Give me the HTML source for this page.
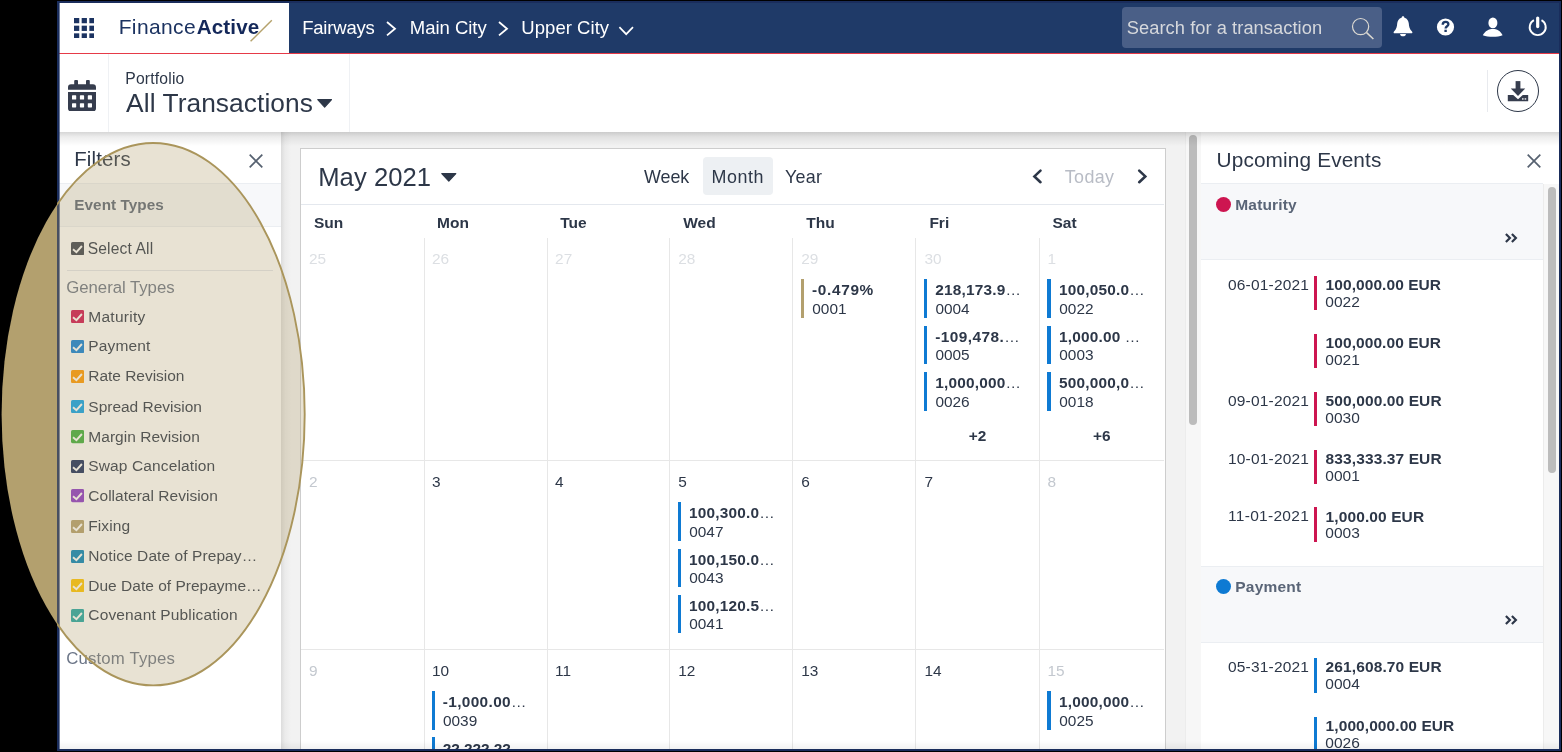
<!DOCTYPE html>
<html><head><meta charset="utf-8"><title>Fairways - Calendar</title>
<style>
html,body{margin:0;padding:0}
body{width:1562px;height:752px;background:#000;overflow:hidden;position:relative;font-family:"Liberation Sans",sans-serif}
.t{position:absolute;white-space:nowrap;display:block}
#frame{position:absolute;left:57px;top:1px;width:1504px;height:750px;background:#1a2d5c}
#clip{position:absolute;left:59px;top:3px;width:1500px;height:746px;overflow:hidden;background:#fff}
#page{position:absolute;left:-59px;top:-3px;width:1562px;height:752px;will-change:transform}
#ov{position:absolute;left:0;top:0}
</style></head><body>
<div id="frame"></div>
<div id="clip"><div id="page">
<div style="position:absolute;left:59px;top:3px;width:230px;height:50px;background:#fff"></div>
<div style="position:absolute;left:289px;top:3px;width:1270px;height:50px;background:#1f3a68"></div>
<div style="position:absolute;left:59px;top:53px;width:1500px;height:1px;background:#e63a48"></div>
<svg style="position:absolute;left:73.6px;top:17.6px" width="20.6" height="20.6" viewBox="0 0 20.4 20.4" fill="#1c3361"><rect x="0.0" y="0.0" width="5.2" height="5.2"/><rect x="7.6" y="0.0" width="5.2" height="5.2"/><rect x="15.2" y="0.0" width="5.2" height="5.2"/><rect x="0.0" y="7.6" width="5.2" height="5.2"/><rect x="7.6" y="7.6" width="5.2" height="5.2"/><rect x="15.2" y="7.6" width="5.2" height="5.2"/><rect x="0.0" y="15.2" width="5.2" height="5.2"/><rect x="7.6" y="15.2" width="5.2" height="5.2"/><rect x="15.2" y="15.2" width="5.2" height="5.2"/></svg>
<span class="t" style="left:118.66px;top:16.00px;font-size:21.0px;line-height:21.0px;color:#1c3361;letter-spacing:0.367px;">Finance</span>
<span class="t" style="left:196.77px;top:17.00px;font-size:20.6px;line-height:20.6px;color:#14285a;font-weight:bold;letter-spacing:0.123px;">Active</span>
<svg style="position:absolute;left:246px;top:16px" width="30" height="30"><line x1="4.6" y1="25.3" x2="25.8" y2="4.3" stroke="#b5a26c" stroke-width="1.45"/></svg>
<span class="t" style="left:302.17px;top:19.00px;font-size:18.5px;line-height:18.5px;color:#fff;letter-spacing:-0.193px;">Fairways</span>
<span class="t" style="left:409.87px;top:19.00px;font-size:18.5px;line-height:18.5px;color:#fff;letter-spacing:-0.037px;">Main City</span>
<span class="t" style="left:521.37px;top:19.00px;font-size:18.5px;line-height:18.5px;color:#fff;letter-spacing:0.038px;">Upper City</span>
<svg style="position:absolute;left:384.6px;top:20.3px" width="12" height="17.4"><polyline points="2,2 10,8.7 2,15.4" fill="none" stroke="#fff" stroke-width="1.8"/></svg>
<svg style="position:absolute;left:497.2px;top:20.3px" width="12" height="17.4"><polyline points="2,2 10,8.7 2,15.4" fill="none" stroke="#fff" stroke-width="1.8"/></svg>
<svg style="position:absolute;left:617px;top:24px" width="20" height="14"><polyline points="2.4,3.2 9.2,10.2 16,3.2" fill="none" stroke="#fff" stroke-width="1.7"/></svg>
<div style="position:absolute;left:1122px;top:7px;width:260px;height:41px;border-radius:4px;background:#4a5f87"></div>
<span class="t" style="left:1126.78px;top:19.00px;font-size:18.3px;line-height:18.3px;color:#d6d8dc;letter-spacing:0.053px;">Search for a transaction</span>
<svg style="position:absolute;left:1348px;top:14px" width="30" height="30"><circle cx="12.6" cy="12.6" r="8.1" fill="none" stroke="#dcd9d2" stroke-width="1.2"/><line x1="18.6" y1="18.6" x2="25.4" y2="25" stroke="#dcd9d2" stroke-width="1.5"/></svg>
<svg style="position:absolute;left:1392px;top:15px" width="23" height="23" viewBox="0 0 23 23" fill="#fff"><path d="M11 1.200C11.900 1.200 12.400 1.900 12.400 2.700C15.200 3.400 16.600 5.800 16.800 8.600C17 12 17.600 14.200 20 16.400C20.800 17.200 20.400 18.300 19.400 18.300H2.600C1.600 18.300 1.200 17.200 2 16.400C4.400 14.200 5 12 5.200 8.600C5.400 5.800 6.800 3.400 9.600 2.700C9.600 1.900 10.100 1.200 11 1.200zM8.100 18.900h5.800c0 1.400-1.200 2.300-2.900 2.300s-2.900-.9-2.900-2.300z"/></svg>
<svg style="position:absolute;left:1436px;top:18px" width="20" height="20"><circle cx="9.5" cy="9" r="8.6" fill="#fff"/><path d="M6.700 6.700C6.700 4.800 8 3.900 9.600 3.900C11.200 3.900 12.400 4.800 12.400 6.300C12.400 8.200 9.600 8.300 9.600 10.500" fill="none" stroke="#1f3a68" stroke-width="2.300"/><rect x="8.400" y="11.700" width="2.400" height="2.300" fill="#1f3a68"/></svg>
<svg style="position:absolute;left:1481px;top:15px" width="24" height="24" fill="#fff"><ellipse cx="11.9" cy="7.9" rx="4.5" ry="5.4"/><path d="M1.800 20.200C4.200 15.700 8 13.900 11.900 13.900s7.700 1.800 9.700 6.300c-2.800 1.200-6 1.500-9.700 1.500s-7.200-.3-10.100-1.500z"/></svg>
<svg style="position:absolute;left:1526px;top:14px" width="24" height="24" fill="none" stroke="#fff"><path d="M7.900 6.100A8 8 0 1 0 15.500 6.100" stroke-width="1.9"/><line x1="11.700" y1="4" x2="11.700" y2="12.600" stroke-width="3.200" stroke-linecap="round"/></svg>
<div style="position:absolute;left:59px;top:54px;width:1500px;height:78px;background:#fff"></div>
<div style="position:absolute;left:108px;top:54px;width:1px;height:78px;background:#eff1f4"></div>
<div style="position:absolute;left:349px;top:54px;width:1px;height:78px;background:#eff1f4"></div>
<div style="position:absolute;left:1487px;top:70px;width:1px;height:42px;background:#e8eaee"></div>
<svg style="position:absolute;left:68px;top:79.800px" width="28" height="31.400" viewBox="0 0 28 31.400" fill="#363d4e">
<rect x="6.200" y="0" width="3.800" height="7" rx="1"/><rect x="18" y="0" width="3.800" height="7" rx="1"/>
<path d="M0 9.800V7.200a3 3 0 0 1 3-3h22a3 3 0 0 1 3 3v2.600z"/>
<path d="M0 12h28v16.400a3 3 0 0 1-3 3H3a3 3 0 0 1-3-3z"/>
<g fill="#fff"><rect x="4" y="15.300" width="4.200" height="4.200" rx=".6"/><rect x="11.900" y="15.300" width="4.200" height="4.200" rx=".6"/><rect x="19.800" y="15.300" width="4.200" height="4.200" rx=".6"/>
<rect x="4" y="23.200" width="4.200" height="4.200" rx=".6"/><rect x="11.900" y="23.200" width="4.200" height="4.200" rx=".6"/><rect x="19.800" y="23.200" width="4.200" height="4.200" rx=".6"/></g></svg>
<span class="t" style="left:125.29px;top:71.00px;font-size:15.7px;line-height:15.7px;color:#2d3748;letter-spacing:0.186px;">Portfolio</span>
<span class="t" style="left:126.12px;top:90.00px;font-size:26.3px;line-height:26.3px;color:#2d3748;letter-spacing:0.076px;">All Transactions</span>
<svg style="position:absolute;left:316.9px;top:98.9px" width="15.3" height="9.2"><polygon points="0.8,0.7 14.50,0.7 7.65,8.10" fill="#2d3748" stroke="#2d3748" stroke-width="1.2" stroke-linejoin="round"/></svg>
<div style="position:absolute;left:1496.600px;top:69.900px;width:40px;height:40px;border:1.200px solid #2d3748;border-radius:50%"></div>
<svg style="position:absolute;left:1506px;top:80px" width="24" height="24" fill="#363d4e"><rect x="9.600" y="1.100" width="4.800" height="8"/><path d="M4.800 8.500h14.400L12 16z"/><path d="M1.800 14.900h5.400l4.800 4.300 4.800-4.300h5.400v6.300H1.800z"/><rect x="16" y="18.300" width="1.600" height="1.300" fill="#fff"/><rect x="18.600" y="18.300" width="1.600" height="1.300" fill="#fff"/></svg>
<div style="position:absolute;left:59px;top:132px;width:1500px;height:617px;background:#f2f2f2"></div>
<div style="position:absolute;left:59px;top:132px;width:222px;height:617px;background:#fff"></div>
<div style="position:absolute;left:281px;top:132px;width:10px;height:617px;background:linear-gradient(to right,#dcdcdc,#ebebeb 40%,#f2f2f2)"></div>
<span class="t" style="left:74.28px;top:149.00px;font-size:20.4px;line-height:20.4px;color:#2d3748;letter-spacing:0.145px;">Filters</span>
<svg style="position:absolute;left:245.7px;top:150.9px" width="20" height="20"><path d="M3.7 3.7L16.3 16.3M16.3 3.7L3.7 16.3" stroke="#566170" stroke-width="1.7" fill="none"/></svg>
<div style="position:absolute;left:59px;top:183px;width:222px;height:44px;background:#f7f8fa;border-top:1px solid #ebeef2;border-bottom:1px solid #ebeef2;box-sizing:border-box"></div>
<span class="t" style="left:74.31px;top:197.00px;font-size:15.3px;line-height:15.3px;color:#5a6577;font-weight:bold;letter-spacing:0.047px;">Event Types</span>
<svg style="position:absolute;left:71px;top:241.5px" width="13.200" height="13.200"><rect width="13.200" height="13.200" rx="1.600" fill="#3a4150"/><polyline points="2,7.300 5.400,10.200 10.900,4" fill="none" stroke="#fff" stroke-width="1.900"/></svg>
<span class="t" style="left:87.70px;top:241.00px;font-size:15.6px;line-height:15.6px;color:#2d3748;letter-spacing:0.147px;">Select All</span>
<div style="position:absolute;left:67px;top:270px;width:206px;height:1px;background:#e2e6ec"></div>
<span class="t" style="left:66.24px;top:280.00px;font-size:16.8px;line-height:16.8px;color:#6b7587;letter-spacing:-0.040px;">General Types</span>
<svg style="position:absolute;left:71px;top:310.3px" width="13.200" height="13.200"><rect width="13.200" height="13.200" rx="1.600" fill="#cf1251"/><polyline points="2,7.300 5.400,10.200 10.900,4" fill="none" stroke="#fff" stroke-width="1.900"/></svg>
<span class="t" style="left:88.30px;top:309.00px;font-size:15.5px;line-height:15.5px;color:#2d3748;letter-spacing:0.262px;">Maturity</span>
<svg style="position:absolute;left:71px;top:339.6px" width="13.200" height="13.200"><rect width="13.200" height="13.200" rx="1.600" fill="#0b80dc"/><polyline points="2,7.300 5.400,10.200 10.900,4" fill="none" stroke="#fff" stroke-width="1.900"/></svg>
<span class="t" style="left:88.30px;top:338.00px;font-size:15.5px;line-height:15.5px;color:#2d3748;letter-spacing:0.149px;">Payment</span>
<svg style="position:absolute;left:71px;top:369.8px" width="13.200" height="13.200"><rect width="13.200" height="13.200" rx="1.600" fill="#ff9900"/><polyline points="2,7.300 5.400,10.200 10.900,4" fill="none" stroke="#fff" stroke-width="1.900"/></svg>
<span class="t" style="left:88.30px;top:368.00px;font-size:15.5px;line-height:15.5px;color:#2d3748;letter-spacing:-0.029px;">Rate Revision</span>
<svg style="position:absolute;left:71px;top:400.0px" width="13.200" height="13.200"><rect width="13.200" height="13.200" rx="1.600" fill="#08a2ee"/><polyline points="2,7.300 5.400,10.200 10.900,4" fill="none" stroke="#fff" stroke-width="1.900"/></svg>
<span class="t" style="left:88.30px;top:399.00px;font-size:15.5px;line-height:15.5px;color:#2d3748;letter-spacing:-0.008px;">Spread Revision</span>
<svg style="position:absolute;left:71px;top:430.4px" width="13.200" height="13.200"><rect width="13.200" height="13.200" rx="1.600" fill="#3bae3c"/><polyline points="2,7.300 5.400,10.200 10.900,4" fill="none" stroke="#fff" stroke-width="1.900"/></svg>
<span class="t" style="left:88.30px;top:429.00px;font-size:15.5px;line-height:15.5px;color:#2d3748;letter-spacing:0.032px;">Margin Revision</span>
<svg style="position:absolute;left:71px;top:459.6px" width="13.200" height="13.200"><rect width="13.200" height="13.200" rx="1.600" fill="#172b5d"/><polyline points="2,7.300 5.400,10.200 10.900,4" fill="none" stroke="#fff" stroke-width="1.900"/></svg>
<span class="t" style="left:88.30px;top:458.00px;font-size:15.5px;line-height:15.5px;color:#2d3748;letter-spacing:0.129px;">Swap Cancelation</span>
<svg style="position:absolute;left:71px;top:489.4px" width="13.200" height="13.200"><rect width="13.200" height="13.200" rx="1.600" fill="#8a35cb"/><polyline points="2,7.300 5.400,10.200 10.900,4" fill="none" stroke="#fff" stroke-width="1.900"/></svg>
<span class="t" style="left:88.30px;top:488.00px;font-size:15.5px;line-height:15.5px;color:#2d3748;letter-spacing:0.020px;">Collateral Revision</span>
<svg style="position:absolute;left:71px;top:519.6px" width="13.200" height="13.200"><rect width="13.200" height="13.200" rx="1.600" fill="#b3a06e"/><polyline points="2,7.300 5.400,10.200 10.900,4" fill="none" stroke="#fff" stroke-width="1.900"/></svg>
<span class="t" style="left:88.30px;top:518.00px;font-size:15.5px;line-height:15.5px;color:#2d3748;letter-spacing:0.076px;">Fixing</span>
<svg style="position:absolute;left:71px;top:549.8px" width="13.200" height="13.200"><rect width="13.200" height="13.200" rx="1.600" fill="#0083bd"/><polyline points="2,7.300 5.400,10.200 10.900,4" fill="none" stroke="#fff" stroke-width="1.900"/></svg>
<span class="t" style="left:88.30px;top:548.00px;font-size:15.5px;line-height:15.5px;color:#2d3748;letter-spacing:0.081px;">Notice Date of Prepay…</span>
<svg style="position:absolute;left:71px;top:579.2px" width="13.200" height="13.200"><rect width="13.200" height="13.200" rx="1.600" fill="#ffc400"/><polyline points="2,7.300 5.400,10.200 10.900,4" fill="none" stroke="#fff" stroke-width="1.900"/></svg>
<span class="t" style="left:88.30px;top:578.00px;font-size:15.5px;line-height:15.5px;color:#2d3748;letter-spacing:0.007px;">Due Date of Prepayme…</span>
<svg style="position:absolute;left:71px;top:608.9px" width="13.200" height="13.200"><rect width="13.200" height="13.200" rx="1.600" fill="#1ea7a7"/><polyline points="2,7.300 5.400,10.200 10.900,4" fill="none" stroke="#fff" stroke-width="1.900"/></svg>
<span class="t" style="left:88.30px;top:607.00px;font-size:15.5px;line-height:15.5px;color:#2d3748;letter-spacing:0.151px;">Covenant Publication</span>
<span class="t" style="left:66.24px;top:651.00px;font-size:16.8px;line-height:16.8px;color:#6b7587;letter-spacing:0.156px;">Custom Types</span>
<div style="position:absolute;left:300px;top:148px;width:866px;height:640px;background:#fff;border:1px solid #cdcdcd;box-sizing:border-box"></div>
<span class="t" style="left:318.25px;top:165.00px;font-size:25.6px;line-height:25.6px;color:#2d3748;letter-spacing:0.046px;">May 2021</span>
<svg style="position:absolute;left:441.3px;top:173.0px" width="15.6" height="9.2"><polygon points="0.8,0.7 14.80,0.7 7.80,8.10" fill="#2d3748" stroke="#2d3748" stroke-width="1.2" stroke-linejoin="round"/></svg>
<span class="t" style="left:643.99px;top:169.00px;font-size:17.9px;line-height:17.9px;color:#2d3748;letter-spacing:-0.025px;">Week</span>
<div style="position:absolute;left:703px;top:157px;width:69.500px;height:37.500px;background:#edf0f3;border-radius:4px"></div>
<span class="t" style="left:711.59px;top:169.00px;font-size:17.9px;line-height:17.9px;color:#2d3748;letter-spacing:0.517px;">Month</span>
<span class="t" style="left:784.99px;top:169.00px;font-size:17.9px;line-height:17.9px;color:#2d3748;letter-spacing:0.291px;">Year</span>
<svg style="position:absolute;left:1030px;top:166px" width="16" height="22"><polyline points="10.500,4.600 4.400,10.400 10.500,16.200" fill="none" stroke="#2d3748" stroke-width="2.600" stroke-linecap="round"/></svg>
<span class="t" style="left:1064.79px;top:169.00px;font-size:17.9px;line-height:17.9px;color:#b8bcc5;letter-spacing:0.354px;">Today</span>
<svg style="position:absolute;left:1134px;top:166px" width="16" height="22"><polyline points="5.200,4.600 11.300,10.400 5.200,16.200" fill="none" stroke="#2d3748" stroke-width="2.600" stroke-linecap="round"/></svg>
<div style="position:absolute;left:301px;top:204px;width:863px;height:1px;background:#e4e8ee"></div>
<span class="t" style="left:314.00px;top:215.00px;font-size:15.5px;line-height:15.5px;color:#2d3748;font-weight:bold;">Sun</span>
<span class="t" style="left:437.08px;top:215.00px;font-size:15.5px;line-height:15.5px;color:#2d3748;font-weight:bold;">Mon</span>
<span class="t" style="left:560.16px;top:215.00px;font-size:15.5px;line-height:15.5px;color:#2d3748;font-weight:bold;">Tue</span>
<span class="t" style="left:683.24px;top:215.00px;font-size:15.5px;line-height:15.5px;color:#2d3748;font-weight:bold;">Wed</span>
<span class="t" style="left:806.32px;top:215.00px;font-size:15.5px;line-height:15.5px;color:#2d3748;font-weight:bold;">Thu</span>
<span class="t" style="left:929.40px;top:215.00px;font-size:15.5px;line-height:15.5px;color:#2d3748;font-weight:bold;">Fri</span>
<span class="t" style="left:1052.48px;top:215.00px;font-size:15.5px;line-height:15.5px;color:#2d3748;font-weight:bold;">Sat</span>
<div style="position:absolute;left:424px;top:238px;width:1px;height:520px;background:#e7e7e7"></div>
<div style="position:absolute;left:547px;top:238px;width:1px;height:520px;background:#e7e7e7"></div>
<div style="position:absolute;left:669px;top:238px;width:1px;height:520px;background:#e7e7e7"></div>
<div style="position:absolute;left:792px;top:238px;width:1px;height:520px;background:#e7e7e7"></div>
<div style="position:absolute;left:915px;top:238px;width:1px;height:520px;background:#e7e7e7"></div>
<div style="position:absolute;left:1039px;top:238px;width:1px;height:520px;background:#e7e7e7"></div>
<div style="position:absolute;left:301px;top:460px;width:863px;height:1px;background:#e7e7e7"></div>
<div style="position:absolute;left:301px;top:649px;width:863px;height:1px;background:#e7e7e7"></div>
<span class="t" style="left:308.91px;top:251.00px;font-size:15.4px;line-height:15.4px;color:#dcdfe3;">25</span>
<span class="t" style="left:432.01px;top:251.00px;font-size:15.4px;line-height:15.4px;color:#dcdfe3;">26</span>
<span class="t" style="left:555.11px;top:251.00px;font-size:15.4px;line-height:15.4px;color:#dcdfe3;">27</span>
<span class="t" style="left:678.21px;top:251.00px;font-size:15.4px;line-height:15.4px;color:#dcdfe3;">28</span>
<span class="t" style="left:801.31px;top:251.00px;font-size:15.4px;line-height:15.4px;color:#dcdfe3;">29</span>
<span class="t" style="left:924.41px;top:251.00px;font-size:15.4px;line-height:15.4px;color:#dcdfe3;">30</span>
<span class="t" style="left:1047.51px;top:251.00px;font-size:15.4px;line-height:15.4px;color:#dcdfe3;">1</span>
<span class="t" style="left:308.91px;top:474.00px;font-size:15.4px;line-height:15.4px;color:#c3c8cf;">2</span>
<span class="t" style="left:432.01px;top:474.00px;font-size:15.4px;line-height:15.4px;color:#2d3748;">3</span>
<span class="t" style="left:555.11px;top:474.00px;font-size:15.4px;line-height:15.4px;color:#2d3748;">4</span>
<span class="t" style="left:678.21px;top:474.00px;font-size:15.4px;line-height:15.4px;color:#2d3748;">5</span>
<span class="t" style="left:801.31px;top:474.00px;font-size:15.4px;line-height:15.4px;color:#2d3748;">6</span>
<span class="t" style="left:924.41px;top:474.00px;font-size:15.4px;line-height:15.4px;color:#2d3748;">7</span>
<span class="t" style="left:1047.51px;top:474.00px;font-size:15.4px;line-height:15.4px;color:#c3c8cf;">8</span>
<span class="t" style="left:308.91px;top:663.00px;font-size:15.4px;line-height:15.4px;color:#c3c8cf;">9</span>
<span class="t" style="left:432.01px;top:663.00px;font-size:15.4px;line-height:15.4px;color:#2d3748;">10</span>
<span class="t" style="left:555.11px;top:663.00px;font-size:15.4px;line-height:15.4px;color:#2d3748;">11</span>
<span class="t" style="left:678.21px;top:663.00px;font-size:15.4px;line-height:15.4px;color:#2d3748;">12</span>
<span class="t" style="left:801.31px;top:663.00px;font-size:15.4px;line-height:15.4px;color:#2d3748;">13</span>
<span class="t" style="left:924.41px;top:663.00px;font-size:15.4px;line-height:15.4px;color:#2d3748;">14</span>
<span class="t" style="left:1047.51px;top:663.00px;font-size:15.4px;line-height:15.4px;color:#c3c8cf;">15</span>
<div style="position:absolute;left:801.2px;top:279px;width:3.200px;height:38.500px;background:#b3a06e"></div><span class="t" style="left:812.11px;top:282.00px;font-size:15.4px;line-height:15.4px;color:#2d3748;font-weight:bold;letter-spacing:0.640px;">-0.479%</span><span class="t" style="left:812.31px;top:301.00px;font-size:15.4px;line-height:15.4px;color:#2d3748;">0001</span>
<div style="position:absolute;left:924.3px;top:279px;width:3.200px;height:38.500px;background:#0e7ad3"></div><span class="t" style="left:935.21px;top:282.00px;font-size:15.4px;line-height:15.4px;color:#2d3748;font-weight:bold;letter-spacing:0.193px;">218,173.9<span style="font-weight:normal">…</span></span><span class="t" style="left:935.41px;top:301.00px;font-size:15.4px;line-height:15.4px;color:#2d3748;">0004</span>
<div style="position:absolute;left:924.3px;top:325.7px;width:3.200px;height:38.500px;background:#0e7ad3"></div><span class="t" style="left:935.21px;top:329.00px;font-size:15.4px;line-height:15.4px;color:#2d3748;font-weight:bold;letter-spacing:0.437px;">-109,478.<span style="font-weight:normal">…</span></span><span class="t" style="left:935.41px;top:347.00px;font-size:15.4px;line-height:15.4px;color:#2d3748;">0005</span>
<div style="position:absolute;left:924.3px;top:372px;width:3.200px;height:38.500px;background:#0e7ad3"></div><span class="t" style="left:935.21px;top:375.00px;font-size:15.4px;line-height:15.4px;color:#2d3748;font-weight:bold;letter-spacing:0.193px;">1,000,000<span style="font-weight:normal">…</span></span><span class="t" style="left:935.41px;top:394.00px;font-size:15.4px;line-height:15.4px;color:#2d3748;">0026</span>
<div style="position:absolute;left:1047.4px;top:279px;width:3.200px;height:38.500px;background:#0e7ad3"></div><span class="t" style="left:1059.11px;top:282.00px;font-size:15.4px;line-height:15.4px;color:#2d3748;font-weight:bold;letter-spacing:0.193px;">100,050.0<span style="font-weight:normal">…</span></span><span class="t" style="left:1059.31px;top:301.00px;font-size:15.4px;line-height:15.4px;color:#2d3748;">0022</span>
<div style="position:absolute;left:1047.4px;top:325.7px;width:3.200px;height:38.500px;background:#0e7ad3"></div><span class="t" style="left:1059.11px;top:329.00px;font-size:15.4px;line-height:15.4px;color:#2d3748;font-weight:bold;letter-spacing:0.173px;">1,000.00 <span style="font-weight:normal">…</span></span><span class="t" style="left:1059.31px;top:347.00px;font-size:15.4px;line-height:15.4px;color:#2d3748;">0003</span>
<div style="position:absolute;left:1047.4px;top:372px;width:3.200px;height:38.500px;background:#0e7ad3"></div><span class="t" style="left:1059.11px;top:375.00px;font-size:15.4px;line-height:15.4px;color:#2d3748;font-weight:bold;letter-spacing:0.193px;">500,000,0<span style="font-weight:normal">…</span></span><span class="t" style="left:1059.31px;top:394.00px;font-size:15.4px;line-height:15.4px;color:#2d3748;">0018</span>
<span class="t" style="left:968.71px;top:428.00px;font-size:15.4px;line-height:15.4px;color:#2d3748;font-weight:bold;">+2</span>
<span class="t" style="left:1093.11px;top:428.00px;font-size:15.4px;line-height:15.4px;color:#2d3748;font-weight:bold;">+6</span>
<div style="position:absolute;left:678.1px;top:502.1px;width:3.200px;height:38.500px;background:#0e7ad3"></div><span class="t" style="left:689.01px;top:505.00px;font-size:15.4px;line-height:15.4px;color:#2d3748;font-weight:bold;letter-spacing:0.193px;">100,300.0<span style="font-weight:normal">…</span></span><span class="t" style="left:689.21px;top:524.00px;font-size:15.4px;line-height:15.4px;color:#2d3748;">0047</span>
<div style="position:absolute;left:678.1px;top:548.8px;width:3.200px;height:38.500px;background:#0e7ad3"></div><span class="t" style="left:689.01px;top:552.00px;font-size:15.4px;line-height:15.4px;color:#2d3748;font-weight:bold;letter-spacing:0.193px;">100,150.0<span style="font-weight:normal">…</span></span><span class="t" style="left:689.21px;top:570.00px;font-size:15.4px;line-height:15.4px;color:#2d3748;">0043</span>
<div style="position:absolute;left:678.1px;top:594.8px;width:3.200px;height:38.500px;background:#0e7ad3"></div><span class="t" style="left:689.01px;top:598.00px;font-size:15.4px;line-height:15.4px;color:#2d3748;font-weight:bold;letter-spacing:0.193px;">100,120.5<span style="font-weight:normal">…</span></span><span class="t" style="left:689.21px;top:616.00px;font-size:15.4px;line-height:15.4px;color:#2d3748;">0041</span>
<div style="position:absolute;left:431.9px;top:691px;width:3.200px;height:38.500px;background:#0e7ad3"></div><span class="t" style="left:442.81px;top:694.00px;font-size:15.4px;line-height:15.4px;color:#2d3748;font-weight:bold;letter-spacing:0.347px;">-1,000.00<span style="font-weight:normal">…</span></span><span class="t" style="left:443.01px;top:713.00px;font-size:15.4px;line-height:15.4px;color:#2d3748;">0039</span>
<div style="position:absolute;left:431.9px;top:737.4px;width:3.200px;height:38.500px;background:#0e7ad3"></div><span class="t" style="left:442.81px;top:741.00px;font-size:15.4px;line-height:15.4px;color:#2d3748;font-weight:bold;letter-spacing:-0.057px;">22,222.22<span style="font-weight:normal">…</span></span><span class="t" style="left:443.01px;top:759.00px;font-size:15.4px;line-height:15.4px;color:#2d3748;">0040</span>
<div style="position:absolute;left:1047.4px;top:691px;width:3.200px;height:38.500px;background:#0e7ad3"></div><span class="t" style="left:1059.11px;top:694.00px;font-size:15.4px;line-height:15.4px;color:#2d3748;font-weight:bold;letter-spacing:0.193px;">1,000,000<span style="font-weight:normal">…</span></span><span class="t" style="left:1059.31px;top:713.00px;font-size:15.4px;line-height:15.4px;color:#2d3748;">0025</span>
<div style="position:absolute;left:1185px;top:132px;width:15.500px;height:617px;background:#f7f7f7;border-left:1px solid #ececec;box-sizing:border-box"></div>
<div style="position:absolute;left:1189px;top:135px;width:8px;height:290px;border-radius:4px;background:#bcbcbc"></div>
<div style="position:absolute;left:1200.500px;top:132px;width:358.500px;height:617px;background:#fff"></div>
<span class="t" style="left:1216.56px;top:150.00px;font-size:20.8px;line-height:20.8px;color:#2d3748;letter-spacing:0.132px;">Upcoming Events</span>
<svg style="position:absolute;left:1524.4px;top:150.9px" width="20" height="20"><path d="M3.7 3.7L16.3 16.3M16.3 3.7L3.7 16.3" stroke="#566170" stroke-width="1.7" fill="none"/></svg>
<div style="position:absolute;left:1543px;top:184px;width:16px;height:565px;background:#f7f7f7;border-left:1px solid #ececec;box-sizing:border-box"></div>
<div style="position:absolute;left:1547.500px;top:187px;width:8px;height:286px;border-radius:4px;background:#bcbcbc"></div>
<div style="position:absolute;left:1200.500px;top:183px;width:342.500px;height:77px;background:#f7f8fa;border-top:1px solid #ebeef2;border-bottom:1px solid #ebeef2;box-sizing:border-box"></div><div style="position:absolute;left:1216px;top:197px;width:15px;height:15px;border-radius:50%;background:#cd1550"></div><span class="t" style="left:1235.30px;top:197.00px;font-size:15.5px;line-height:15.5px;color:#5a6577;font-weight:bold;letter-spacing:0.165px;">Maturity</span><svg style="position:absolute;left:1503px;top:231.9px" width="16" height="12"><path d="M2.900 2L6.900 6L2.900 10M8.900 2L12.900 6L8.900 10" fill="none" stroke="#2d3748" stroke-width="2.200"/></svg>
<span class="t" style="left:1228.00px;top:277.00px;font-size:15.5px;line-height:15.5px;color:#2d3748;letter-spacing:0.182px;">06-01-2021</span><div style="position:absolute;left:1314.300px;top:275.7px;width:3.200px;height:34.800px;background:#cd1550"></div><span class="t" style="left:1325.60px;top:277.00px;font-size:15.5px;line-height:15.5px;color:#2d3748;font-weight:bold;letter-spacing:0.065px;">100,000.00 EUR</span><span class="t" style="left:1325.30px;top:294.00px;font-size:15.5px;line-height:15.5px;color:#2d3748;">0022</span>
<div style="position:absolute;left:1314.300px;top:333.7px;width:3.200px;height:34.800px;background:#cd1550"></div><span class="t" style="left:1325.60px;top:335.00px;font-size:15.5px;line-height:15.5px;color:#2d3748;font-weight:bold;letter-spacing:0.065px;">100,000.00 EUR</span><span class="t" style="left:1325.30px;top:352.00px;font-size:15.5px;line-height:15.5px;color:#2d3748;">0021</span>
<span class="t" style="left:1228.00px;top:393.00px;font-size:15.5px;line-height:15.5px;color:#2d3748;letter-spacing:0.182px;">09-01-2021</span><div style="position:absolute;left:1314.300px;top:391.7px;width:3.200px;height:34.800px;background:#cd1550"></div><span class="t" style="left:1325.60px;top:393.00px;font-size:15.5px;line-height:15.5px;color:#2d3748;font-weight:bold;letter-spacing:0.108px;">500,000.00 EUR</span><span class="t" style="left:1325.30px;top:410.00px;font-size:15.5px;line-height:15.5px;color:#2d3748;">0030</span>
<span class="t" style="left:1228.00px;top:451.00px;font-size:15.5px;line-height:15.5px;color:#2d3748;letter-spacing:0.182px;">10-01-2021</span><div style="position:absolute;left:1314.300px;top:449.7px;width:3.200px;height:34.800px;background:#cd1550"></div><span class="t" style="left:1325.60px;top:451.00px;font-size:15.5px;line-height:15.5px;color:#2d3748;font-weight:bold;letter-spacing:0.108px;">833,333.37 EUR</span><span class="t" style="left:1325.30px;top:468.00px;font-size:15.5px;line-height:15.5px;color:#2d3748;">0001</span>
<span class="t" style="left:1228.00px;top:508.00px;font-size:15.5px;line-height:15.5px;color:#2d3748;letter-spacing:0.298px;">11-01-2021</span><div style="position:absolute;left:1314.300px;top:507.3px;width:3.200px;height:34.800px;background:#cd1550"></div><span class="t" style="left:1325.60px;top:509.00px;font-size:15.5px;line-height:15.5px;color:#2d3748;font-weight:bold;letter-spacing:0.104px;">1,000.00 EUR</span><span class="t" style="left:1325.30px;top:525.00px;font-size:15.5px;line-height:15.5px;color:#2d3748;">0003</span>
<div style="position:absolute;left:1200.500px;top:566px;width:342.500px;height:77px;background:#f7f8fa;border-top:1px solid #ebeef2;border-bottom:1px solid #ebeef2;box-sizing:border-box"></div><div style="position:absolute;left:1216px;top:579px;width:15px;height:15px;border-radius:50%;background:#0e7ad3"></div><span class="t" style="left:1235.30px;top:579.00px;font-size:15.5px;line-height:15.5px;color:#5a6577;font-weight:bold;letter-spacing:0.213px;">Payment</span><svg style="position:absolute;left:1503px;top:614.1px" width="16" height="12"><path d="M2.900 2L6.900 6L2.900 10M8.900 2L12.900 6L8.900 10" fill="none" stroke="#2d3748" stroke-width="2.200"/></svg>
<span class="t" style="left:1228.00px;top:659.00px;font-size:15.5px;line-height:15.5px;color:#2d3748;letter-spacing:0.182px;">05-31-2021</span><div style="position:absolute;left:1314.300px;top:657.9px;width:3.200px;height:34.800px;background:#0e7ad3"></div><span class="t" style="left:1325.60px;top:659.00px;font-size:15.5px;line-height:15.5px;color:#2d3748;font-weight:bold;letter-spacing:0.108px;">261,608.70 EUR</span><span class="t" style="left:1325.30px;top:676.00px;font-size:15.5px;line-height:15.5px;color:#2d3748;">0004</span>
<div style="position:absolute;left:1314.300px;top:716.9px;width:3.200px;height:34.800px;background:#0e7ad3"></div><span class="t" style="left:1325.60px;top:718.00px;font-size:15.5px;line-height:15.5px;color:#2d3748;font-weight:bold;letter-spacing:0.079px;">1,000,000.00 EUR</span><span class="t" style="left:1325.30px;top:735.00px;font-size:15.5px;line-height:15.5px;color:#2d3748;">0026</span>
<div style="position:absolute;left:59px;top:132px;width:1500px;height:14px;background:linear-gradient(to bottom,rgba(0,0,0,.16),rgba(0,0,0,.07) 35%,rgba(0,0,0,0))"></div>
<div style="position:absolute;left:59px;top:741px;width:1500px;height:8px;background:linear-gradient(to bottom,rgba(0,0,0,0),rgba(0,0,0,.05))"></div>
</div></div>
<div style="position:absolute;left:59px;top:3px;width:1px;height:746px;background:rgba(26,45,92,.62)"></div>
<svg id="ov" width="1562" height="752" viewBox="0 0 1562 752">
<defs><clipPath id="cl"><rect x="0" y="0" width="57" height="752"/></clipPath><clipPath id="cr"><rect x="57" y="0" width="1505" height="752"/></clipPath></defs>
<ellipse cx="153.200" cy="414.200" rx="151.600" ry="271.300" fill="#b3a06e" clip-path="url(#cl)"/>
<ellipse cx="153.200" cy="414.200" rx="151.500" ry="271.200" fill="rgba(179,160,110,0.300)" stroke="#aa955b" stroke-width="1.900" clip-path="url(#cr)"/>
</svg>
</body></html>
